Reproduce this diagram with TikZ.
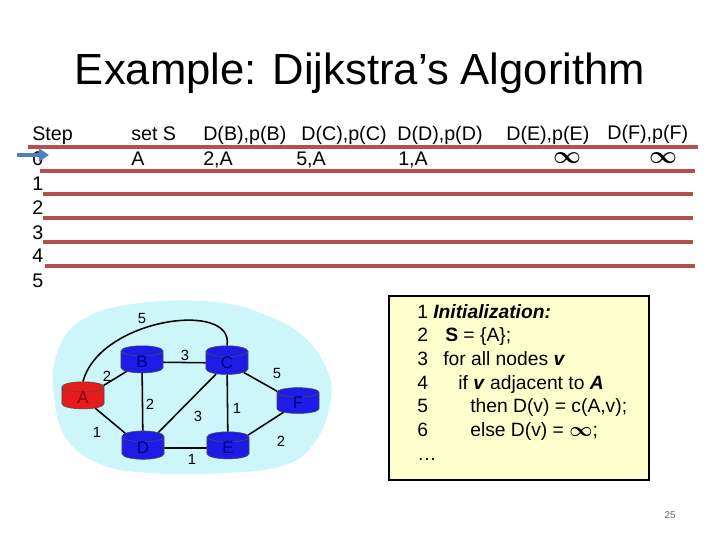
\documentclass[tikz,border=0pt]{standalone}
\usepackage{fontspec}
\usepackage{amsmath,amssymb}
\setmainfont{Liberation Sans}
\usetikzlibrary{
  arrows.meta,
  shapes.geometric,
  positioning
}
\definecolor{dijkRule}{HTML}{B5504D}
\definecolor{dijkPointer}{HTML}{4F81BD}
\definecolor{dijkCloud}{HTML}{CCF6FA}
\definecolor{dijkRouter}{HTML}{1C1CE6}
\definecolor{dijkRouterText}{HTML}{000080}
\definecolor{dijkSource}{HTML}{E61C1C}
\definecolor{dijkSourceText}{HTML}{800000}
\definecolor{dijkNote}{HTML}{FFFFCC}
\newcommand{\dijkInf}{\ensuremath{\boldsymbol{\infty}}}
\tikzset{
  titleText/.style={font=\fontsize{31}{36}\selectfont, anchor=base},
  tableText/.style={font=\fontsize{14}{16}\selectfont, anchor=base west, inner sep=0pt},
  infText/.style={font=\fontsize{16}{18}\selectfont, anchor=base, inner sep=0pt,
    text height=0.45em, text depth=0pt},
  codeText/.style={font=\fontsize{13.7}{16}\selectfont, anchor=base west, inner sep=0pt},
  tableRule/.style={dijkRule, line width=2.2pt},
  stepPointer/.style={dijkPointer, line width=3pt, -{Triangle[length=7pt, width=9pt]}},
  router/.style={
    cylinder, shape border rotate=90, aspect=0.9,
    minimum width=1.05cm, minimum height=0.55cm,
    inner sep=0pt, draw=black!70, line width=0.4pt,
    fill=dijkRouter, text=dijkRouterText,
    font=\fontsize{12}{13}\selectfont
  },
  sourceRouter/.style={router, fill=dijkSource, text=dijkSourceText},
  link/.style={black, line width=1.1pt},
  weight/.style={font=\fontsize{10.5}{12}\selectfont, inner sep=0pt},
  notePanel/.style={draw=black, line width=1.5pt, fill=dijkNote}
}

\begin{document}
\begin{tikzpicture}[x=0.025cm, y=-0.025cm]
  \useasboundingbox (0,0) rectangle (720,540);

  \node[titleText] (title) at (360,84) {Example: Dijkstra’s Algorithm};

  % table header
  \node[tableText] (hStep) at (32,140) {Step};
  \node[tableText] (hSet) at (131,140) {set S};
  \node[tableText] (hB) at (203,140) {D(B),p(B)};
  \node[tableText] (hC) at (301,140) {D(C),p(C)};
  \node[tableText] (hD) at (397,140) {D(D),p(D)};
  \node[tableText] (hE) at (506,140) {D(E),p(E)};
  \node[tableText] (hF) at (607,139) {D(F),p(F)};

  % step numbers
  \node[tableText] (r0) at (32,165) {0};
  \node[tableText] (r1) at (32,190) {1};
  \node[tableText] (r2) at (32,214) {2};
  \node[tableText] (r3) at (32,239) {3};
  \node[tableText] (r4) at (32,262) {4};
  \node[tableText] (r5) at (32,287) {5};

  % row 0
  \node[tableText] (setA) at (131,165) {A};
  \node[tableText] (valB) at (203,165) {2,A};
  \node[tableText] (valC) at (296,165) {5,A};
  \node[tableText] (valD) at (398,165) {1,A};
  \node[infText] (valE) at (567,163) {\dijkInf};
  \node[infText] (valF) at (663,163) {\dijkInf};

  \draw[tableRule] (28,147) -- (698,147);
  \draw[tableRule] (40,171) -- (695,171);
  \draw[tableRule] (43,194) -- (693,194);
  \draw[tableRule] (43,218) -- (693,218);
  \draw[tableRule] (43,242) -- (693,242);
  \draw[tableRule] (45,266) -- (695,266);

  \coordinate (pointerTail) at (17,155);
  \coordinate (pointerTip) at (49,155);
  \draw[stepPointer] (pointerTail) -- (pointerTip);

  % network
  \fill[dijkCloud] plot[smooth cycle, tension=0.7] coordinates {
    (54,395) (58,350) (85,318) (140,303) (215,302) (268,316)
    (305,338) (328,372) (330,405) (315,442) (285,465)
    (225,473) (150,473) (100,464) (66,438)};

  \node[sourceRouter] (A) at (83,398) {A};
  \node[router] (B) at (142,362) {B};
  \node[router] (C) at (227,363) {C};
  \node[router] (D) at (143,448) {D};
  \node[router] (E) at (228,448) {E};
  \node[router] (F) at (298,403) {F};

  \draw[link] (A) -- (B);
  \draw[link] (B) -- (C);
  \draw[link] (A) -- (D);
  \draw[link] (B) -- (D);
  \draw[link] (D) -- (C);
  \draw[link] (C) -- (E);
  \draw[link] (C) -- (F);
  \draw[link] (D) -- (E);
  \draw[link] (E) -- (F);
  \draw[link] (A.north) .. controls (100,318) and (235,300) .. (C.north);

  \node[weight] (wAC) at (142,318) {5};
  \node[weight] (wBC) at (185,355) {3};
  \node[weight] (wAB) at (107,376) {2};
  \node[weight] (wBD) at (150,404) {2};
  \node[weight] (wCF) at (277,373) {5};
  \node[weight] (wCE) at (237,408) {1};
  \node[weight] (wDC) at (198,416) {3};
  \node[weight] (wAD) at (97,432) {1};
  \node[weight] (wDE) at (192,459) {1};
  \node[weight] (wEF) at (281,441) {2};

  % pseudocode
  \node[notePanel, minimum width=6.5cm, minimum height=4.6cm, anchor=north west]
    (code) at (388,295) {};
  \node[codeText] (c1) at (417,318) {1};
  \node[codeText] (c2) at (417,341.5) {2};
  \node[codeText] (c3) at (417,365) {3};
  \node[codeText] (c4) at (417,389) {4};
  \node[codeText] (c5) at (417,412.5) {5};
  \node[codeText] (c6) at (417,436) {6};
  \node[codeText] (c7) at (417,460) {\dots};
  \node[codeText] (t1) at (433,318) {\textbf{\textit{Initialization:}}};
  \node[codeText] (t2) at (445,341.5) {\textbf{S} = \{A\};};
  \node[codeText] (t3) at (443,365) {for all nodes \textbf{\textit{v}}};
  \node[codeText] (t4) at (458,389) {if \textbf{\textit{v}} adjacent to \textbf{\textit{A}}};
  \node[codeText] (t5) at (470,412.5) {then D(v) = c(A,v);};
  \node[codeText] (t6) at (470,436) {else D(v) = \dijkInf;};

  \node[font=\fontsize{7}{8}\selectfont, text=black!60] (page) at (670,515) {25};
\end{tikzpicture}
\end{document}
